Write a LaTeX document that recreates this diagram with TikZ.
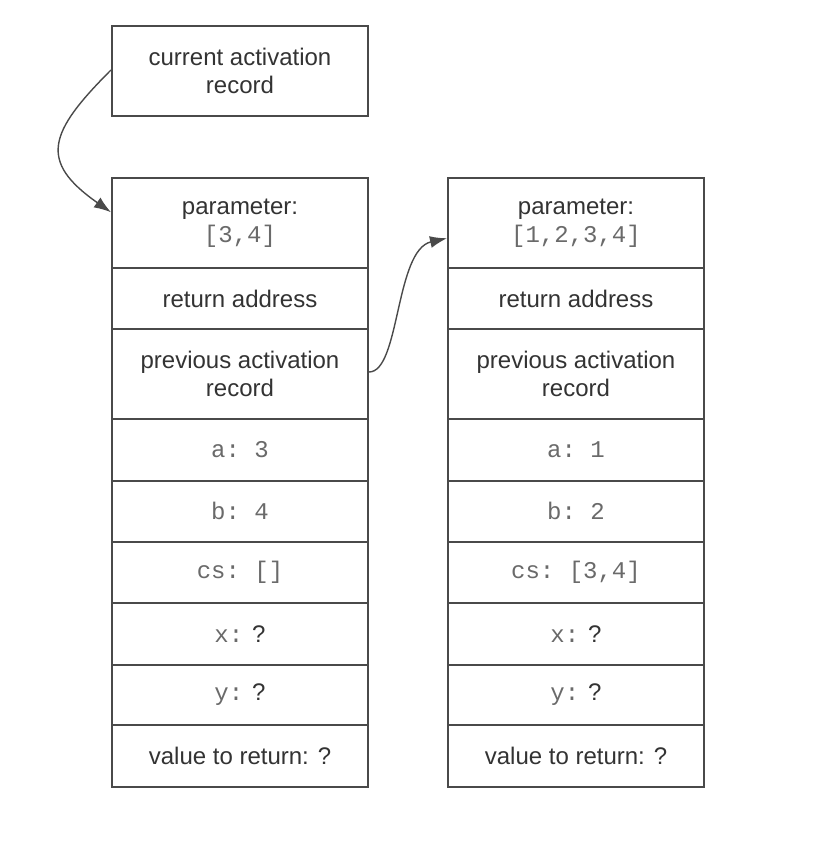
\documentclass[tikz,border=0pt]{standalone}
\usepackage{fontspec}
\setmainfont{Liberation Sans}
\setmonofont{Liberation Mono}
\usetikzlibrary{arrows.meta}
\definecolor{linec}{HTML}{4A4A4A}
\definecolor{textc}{HTML}{333333}
\definecolor{codec}{HTML}{6A6A6A}
\newcommand{\cd}[1]{{\color{codec}\ttfamily #1}}
\begin{document}
\begin{tikzpicture}[x=1pt,y=-1pt,
  cell/.style={draw=linec, line width=2pt, rectangle, minimum width=256pt, inner sep=0pt,
    align=center, text=textc, font=\fontsize{24}{28}\selectfont},
  arr/.style={draw=linec, line width=1.4pt, -{Latex[length=17pt,width=12pt]}}]
\fill[white] (0,0) rectangle (834,850);
\useasboundingbox (0,0) rectangle (834,850);
% top box
\node[cell, minimum height=90pt] (top) at (240,71) {current activation\\record};
% left column
\node[cell, minimum height=89.5pt] (L1) at (240,223.25) {parameter:\\\cd{[3,4]}};
\node[cell, minimum height=61pt] (L2) at (240,298.5) {return address};
\node[cell, minimum height=90pt] (L3) at (240,374) {previous activation\\record};
\node[cell, minimum height=61.5pt] (L4) at (240,449.75) {\cd{a: 3}};
\node[cell, minimum height=61.5pt] (L5) at (240,511.25) {\cd{b: 4}};
\node[cell, minimum height=61pt] (L6) at (240,572.5) {\cd{cs: []}};
\node[cell, minimum height=61.5pt] (L7) at (240,633.75) {\cd{x:} ?};
\node[cell, minimum height=60.5pt] (L8) at (240,694.75) {\cd{y:} ?};
\node[cell, minimum height=62pt] (L9) at (240,756) {value to return: ?};
% right column
\node[cell, minimum height=89.5pt] (R1) at (576,223.25) {parameter:\\\cd{[1,2,3,4]}};
\node[cell, minimum height=61pt] (R2) at (576,298.5) {return address};
\node[cell, minimum height=90pt] (R3) at (576,374) {previous activation\\record};
\node[cell, minimum height=61.5pt] (R4) at (576,449.75) {\cd{a: 1}};
\node[cell, minimum height=61.5pt] (R5) at (576,511.25) {\cd{b: 2}};
\node[cell, minimum height=61pt] (R6) at (576,572.5) {\cd{cs: [3,4]}};
\node[cell, minimum height=61.5pt] (R7) at (576,633.75) {\cd{x:} ?};
\node[cell, minimum height=60.5pt] (R8) at (576,694.75) {\cd{y:} ?};
\node[cell, minimum height=62pt] (R9) at (576,756) {value to return: ?};
% arrows
\draw[arr] ([yshift=1pt]top.west) to[out=225, in=145, looseness=1.6] ([yshift=11pt]L1.west);
\draw[arr] ([yshift=2pt]L3.east) .. controls (400,372) and (395,250) .. ([yshift=-15pt]R1.west);
\end{tikzpicture}
\end{document}
